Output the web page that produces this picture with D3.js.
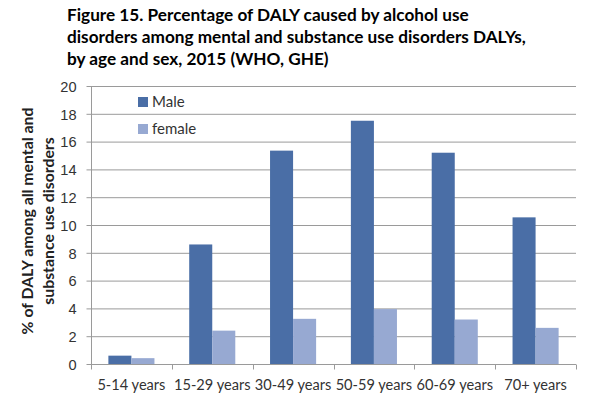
<!DOCTYPE html>
<html>
<head>
<meta charset="utf-8">
<script src="https://cdn.jsdelivr.net/npm/d3@7"></script>
<style>
  body { margin: 0; background: #fff; }
  svg { font-family: Lato, "Open Sans", sans-serif; }
  .title { font-weight: bold; font-size: 17.2px; fill: #000; }
  .axis text { font-size: 14.6px; fill: #333; }
  .axis path, .axis line { stroke: #9a9a9a; }
  .grid line { stroke: #9a9a9a; }
  .ylabel { font-weight: bold; font-size: 15.8px; fill: #222; }
  .legend text { font-size: 15px; fill: #333; }
</style>
</head>
<body>
<script>
(function() {

    //chart data
    var categories = ["5-14 years", "15-29 years", "30-49 years", "50-59 years", "60-69 years", "70+ years"];
    var seriesNames = ["Male", "female"];
    var maleValues = [0.6, 8.6, 15.35, 17.5, 15.2, 10.55];
    var femaleValues = [0.42, 2.4, 3.25, 3.95, 3.2, 2.6];
    var yTicks = [0, 2, 4, 6, 8, 10, 12, 14, 16, 18, 20];
    var titleLines = [
        "Figure 15. Percentage of DALY caused by alcohol use",
        "disorders among mental and substance use disorders DALYs,",
        "by age and sex, 2015 (WHO, GHE)"
    ];
    var yLabelLines = ["% of DALY among all mental and", "substance use disorders"];
    var colors = ["#4a6ea6", "#97a9d2"];

    window.onload = setChart();

    function setChart(){
        var width = 597, height = 409;
        var margin = {top: 86, right: 21, bottom: 45, left: 91};
        var innerWidth = width - margin.left - margin.right,
            innerHeight = height - margin.top - margin.bottom;

        var svg = d3.select("body")
            .append("svg")
            .attr("width", width)
            .attr("height", height);

        //title
        svg.selectAll(".title")
            .data(titleLines)
            .enter()
            .append("text")
            .attr("class", "title")
            .attr("x", 67)
            .attr("y", function(d, i){ return 21 + i * 22; })
            .text(function(d){ return d; });

        var g = svg.append("g")
            .attr("transform", "translate(" + margin.left + "," + margin.top + ")");

        var yScale = d3.scaleLinear()
            .domain([0, 20])
            .range([innerHeight, 0]);

        var x0 = d3.scaleBand()
            .domain(categories)
            .range([0, innerWidth])
            .paddingInner(0)
            .paddingOuter(0);

        //bars take up 46 of ~81 px per category
        var x1 = d3.scaleBand()
            .domain(seriesNames)
            .range([x0.bandwidth() * 0.215, x0.bandwidth() * 0.785]);

        //gridlines
        g.append("g")
            .attr("class", "grid")
            .selectAll("line")
            .data(yTicks.slice(1))
            .enter()
            .append("line")
            .attr("x1", 0)
            .attr("x2", innerWidth)
            .attr("y1", function(d){ return yScale(d) + 0.5; })
            .attr("y2", function(d){ return yScale(d) + 0.5; });

        //bars
        var rows = categories.map(function(c, i){
            return {cat: c, values: [maleValues[i], femaleValues[i]]};
        });

        var groups = g.selectAll(".cat")
            .data(rows)
            .enter()
            .append("g")
            .attr("class", "cat")
            .attr("transform", function(d){ return "translate(" + x0(d.cat) + ",0)"; });

        groups.selectAll("rect")
            .data(function(d){
                return d.values.map(function(v, j){ return {name: seriesNames[j], value: v, color: colors[j]}; });
            })
            .enter()
            .append("rect")
            .attr("x", function(d){ return x1(d.name); })
            .attr("width", x1.bandwidth())
            .attr("y", function(d){ return yScale(d.value); })
            .attr("height", function(d){ return innerHeight - yScale(d.value); })
            .style("fill", function(d){ return d.color; });

        //y axis
        var yAxis = d3.axisLeft(yScale)
            .tickValues(yTicks)
            .tickSize(5)
            .tickPadding(10);

        g.append("g")
            .attr("class", "axis")
            .attr("transform", "translate(0.5,0)")
            .call(yAxis)
            .call(function(a){ a.select(".domain").attr("d", "M0," + innerHeight + "V0"); })
            .selectAll("text")
            .attr("dy", "0.36em");

        //x axis with ticks on category boundaries
        var xAxis = g.append("g")
            .attr("class", "axis")
            .attr("transform", "translate(0," + (innerHeight + 0.5) + ")");

        xAxis.append("line")
            .attr("x1", 0)
            .attr("x2", innerWidth);

        xAxis.selectAll(".xtick")
            .data(d3.range(categories.length + 1))
            .enter()
            .append("line")
            .attr("class", "xtick")
            .attr("x1", function(i){ return Math.round(i * x0.step()) + 0.5; })
            .attr("x2", function(i){ return Math.round(i * x0.step()) + 0.5; })
            .attr("y1", 0)
            .attr("y2", 5);

        xAxis.selectAll(".xlabel")
            .data(categories)
            .enter()
            .append("text")
            .attr("class", "xlabel")
            .attr("x", function(d){ return x0(d) + x0.bandwidth() / 2; })
            .attr("y", 25)
            .attr("text-anchor", "middle")
            .text(function(d){ return d; });

        //y label
        svg.append("text")
            .attr("class", "ylabel")
            .attr("transform", "translate(33,221) rotate(-90)")
            .selectAll("tspan")
            .data(yLabelLines)
            .enter()
            .append("tspan")
            .attr("x", 0)
            .attr("dy", function(d, i){ return i === 0 ? 0 : 21; })
            .attr("text-anchor", "middle")
            .text(function(d){ return d; });

        //legend
        var legend = svg.append("g")
            .attr("class", "legend")
            .attr("transform", "translate(138,97)");

        var items = legend.selectAll("g")
            .data(seriesNames)
            .enter()
            .append("g")
            .attr("transform", function(d, i){ return "translate(0," + (i * 27) + ")"; });

        items.append("rect")
            .attr("width", 10)
            .attr("height", 10)
            .style("fill", function(d, i){ return colors[i]; });

        items.append("text")
            .attr("x", 14)
            .attr("y", 10)
            .text(function(d){ return d; });
    };

})();
</script>
</body>
</html>
